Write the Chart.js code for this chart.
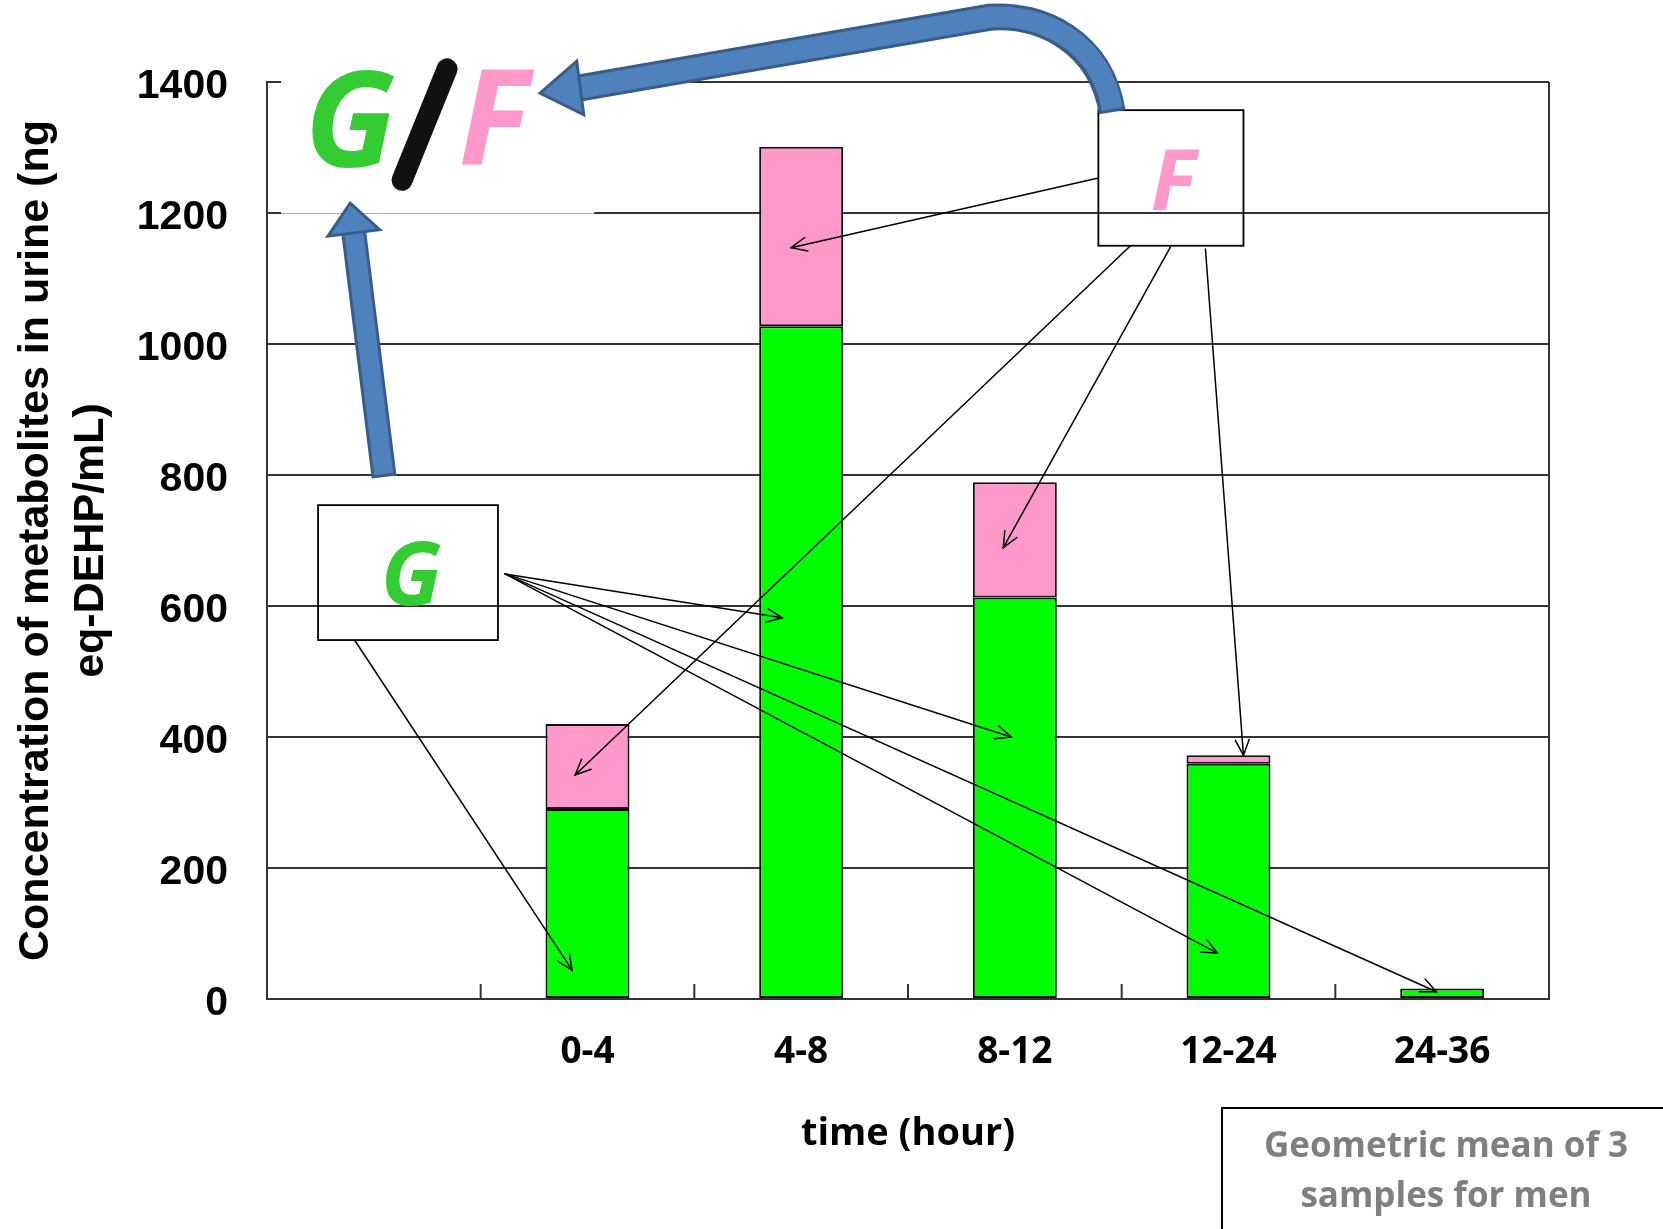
<!DOCTYPE html>
<html>
<head>
<meta charset="utf-8">
<script src="https://cdn.jsdelivr.net/npm/chart.js@4.4.1/dist/chart.umd.min.js"></script>
<style>
  body { margin: 0; background: #fff; }
  canvas { display: block; }
</style>
</head>
<body>
<canvas id="metaboliteChart" width="1663" height="1229"></canvas>
<script>
// time windows (first slot is an empty category, as in the original figure)
const categories = ['', '0-4', '4-8', '8-12', '12-24', '24-36'];
// G = glucuronide, F = free form  (ng eq-DEHP/mL)
const greenValues = [null, 290, 1027, 613, 359, 16];
const pinkValues = [null, 130, 274, 176, 13, null];
const yTicks = [0, 200, 400, 600, 800, 1000, 1200, 1400];

// annotation anchors in axis units: [category index, value]
const gBox = [[-0.261, 754], [0.581, 548]];
const fBox = [[3.391, 1357], [4.070, 1150]];
const gArrows = [
    [[0.614, 649], [1.911, 582]],
    [[0.614, 649], [2.983, 400]],
    [[0.614, 649], [3.948, 70]],
    [[0.614, 649], [4.973, 11]],
    [[-0.088, 547], [0.928, 44]]
];
const fArrows = [
    [[3.386, 1253], [1.953, 1147]],
    [[3.541, 1150], [0.942, 342]],
    [[3.728, 1148], [2.946, 689]],
    [[3.892, 1145], [4.070, 372]]
];

document.addEventListener('DOMContentLoaded', function() {
    const green = '#00ff00';
    const pink = '#ff99cc';
    const textGreen = '#33cc33';
    const blue = '#4f81bd';
    const blueEdge = '#385d8a';

    function P(chart, i, v) {
        return [chart.scales.x.getPixelForValue(i), chart.scales.y.getPixelForValue(v)];
    }

    function thinArrow(ctx, a, b) {
        ctx.beginPath();
        ctx.moveTo(a[0], a[1]);
        ctx.lineTo(b[0], b[1]);
        ctx.stroke();
        const ang = Math.atan2(b[1] - a[1], b[0] - a[0]);
        const L = 17, w = 0.42;
        ctx.beginPath();
        ctx.moveTo(b[0] - L * Math.cos(ang - w), b[1] - L * Math.sin(ang - w));
        ctx.lineTo(b[0], b[1]);
        ctx.lineTo(b[0] - L * Math.cos(ang + w), b[1] - L * Math.sin(ang + w));
        ctx.stroke();
    }

    function blueHead(ctx, tip, base, half) {
        const dx = tip[0] - base[0], dy = tip[1] - base[1];
        const len = Math.hypot(dx, dy);
        const nx = -dy / len, ny = dx / len;
        ctx.beginPath();
        ctx.moveTo(tip[0], tip[1]);
        ctx.lineTo(base[0] + nx * half, base[1] + ny * half);
        ctx.lineTo(base[0] - nx * half, base[1] - ny * half);
        ctx.closePath();
        ctx.fillStyle = blue;
        ctx.fill();
        ctx.lineWidth = 3;
        ctx.strokeStyle = blueEdge;
        ctx.lineJoin = 'miter';
        ctx.stroke();
    }

    const annotations = {
        id: 'annotations',
        afterDraw(chart) {
            const ctx = chart.ctx;
            const area = chart.chartArea;
            const x = chart.scales.x;
            ctx.save();

            // right border of the plot
            ctx.strokeStyle = '#333';
            ctx.lineWidth = 2;
            ctx.beginPath();
            ctx.moveTo(area.right, area.top);
            ctx.lineTo(area.right, area.bottom);
            ctx.stroke();

            // small tick marks between categories, pointing into the plot
            for (let i = 1; i < categories.length; i++) {
                const px = x.getPixelForValue(i - 0.5);
                ctx.beginPath();
                ctx.moveTo(px, area.bottom);
                ctx.lineTo(px, area.bottom - 15);
                ctx.stroke();
            }

            // white backdrop behind the G/F title
            const b1 = P(chart, -0.434, 1440);
            const b2 = P(chart, 1.031, 1200);
            ctx.fillStyle = '#fff';
            ctx.fillRect(b1[0], b1[1], b2[0] - b1[0], b2[1] - b1[1] + 1.5);
            ctx.strokeStyle = '#aaa';
            ctx.lineWidth = 1;
            ctx.beginPath();
            ctx.moveTo(b1[0], b2[1] + 0.5);
            ctx.lineTo(b2[0], b2[1] + 0.5);
            ctx.stroke();

            // boxes
            ctx.strokeStyle = '#000';
            ctx.lineWidth = 1.8;
            [gBox, fBox].forEach(function(bx) {
                const p1 = P(chart, bx[0][0], bx[0][1]);
                const p2 = P(chart, bx[1][0], bx[1][1]);
                ctx.strokeRect(p1[0], p1[1], p2[0] - p1[0], p2[1] - p1[1]);
            });

            // thin arrows
            ctx.lineWidth = 1.5;
            ctx.strokeStyle = '#000';
            ctx.lineCap = 'round';
            gArrows.concat(fArrows).forEach(function(ar) {
                thinArrow(ctx, P(chart, ar[0][0], ar[0][1]), P(chart, ar[1][0], ar[1][1]));
            });

            // box letters
            ctx.textAlign = 'center';
            ctx.textBaseline = 'alphabetic';
            ctx.font = 'italic bold 88px "Open Sans", sans-serif';
            ctx.fillStyle = textGreen;
            let t = P(chart, 0.174, 601);
            ctx.fillText('G', t[0], t[1]);
            ctx.font = 'italic bold 85px "Open Sans", sans-serif';
            ctx.fillStyle = pink;
            t = P(chart, 3.742, 1205);
            ctx.fillText('F', t[0], t[1]);

            // G/F heading
            ctx.font = 'italic bold 132px "Open Sans", sans-serif';
            ctx.fillStyle = textGreen;
            t = P(chart, -0.111, 1270);
            ctx.fillText('G', t[0], t[1]);
            ctx.fillStyle = pink;
            t = P(chart, 0.560, 1273);
            ctx.fillText('F', t[0], t[1]);
            const s1 = P(chart, 0.343, 1420);
            const s2 = P(chart, 0.132, 1250);
            ctx.strokeStyle = '#111';
            ctx.lineWidth = 21;
            ctx.lineCap = 'round';
            ctx.beginPath();
            ctx.moveTo(s1[0], s1[1]);
            ctx.lineTo(s2[0], s2[1]);
            ctx.stroke();

            // vertical blue arrow from the G box
            ctx.lineCap = 'butt';
            const vb = P(chart, 0.048, 797);
            const vt = P(chart, -0.111, 1215);
            const vlen = Math.hypot(vt[0] - vb[0], vt[1] - vb[1]);
            const ux = (vt[0] - vb[0]) / vlen, uy = (vt[1] - vb[1]) / vlen;
            const vbase = [vt[0] - ux * 30, vt[1] - uy * 30];
            ctx.strokeStyle = blueEdge;
            ctx.lineWidth = 25;
            ctx.beginPath();
            ctx.moveTo(vb[0], vb[1]);
            ctx.lineTo(vbase[0], vbase[1]);
            ctx.stroke();
            ctx.strokeStyle = blue;
            ctx.lineWidth = 19;
            ctx.beginPath();
            ctx.moveTo(vb[0] + ux * 3, vb[1] + uy * 3);
            ctx.lineTo(vbase[0], vbase[1]);
            ctx.stroke();
            blueHead(ctx, vt, vbase, 26);

            // curved blue arrow from the F box
            const c0 = P(chart, 3.456, 1354);
            const c1 = P(chart, 3.400, 1464);
            const c2 = P(chart, 3.119, 1504);
            const c3 = P(chart, 2.885, 1499);
            const c4 = P(chart, 0.966, 1391);
            const ct = P(chart, 0.778, 1383);
            [[blueEdge, 27], [blue, 21]].forEach(function(st, k) {
                ctx.strokeStyle = st[0];
                ctx.lineWidth = st[1];
                ctx.lineJoin = 'round';
                ctx.beginPath();
                ctx.moveTo(c0[0], c0[1] - k * 3);
                ctx.bezierCurveTo(c1[0], c1[1], c2[0], c2[1], c3[0], c3[1]);
                ctx.lineTo(c4[0], c4[1]);
                ctx.stroke();
            });
            blueHead(ctx, ct, c4, 27);

            // note box, bottom right
            const W = chart.width, H = chart.height;
            ctx.strokeStyle = '#000';
            ctx.lineWidth = 2;
            ctx.strokeRect(W - 441, H - 121, 460, 140);
            ctx.fillStyle = '#7f7f7f';
            ctx.font = 'bold 35px "Open Sans", sans-serif';
            ctx.textAlign = 'center';
            ctx.fillText('Geometric mean of 3', W - 217, H - 72);
            ctx.fillText('samples for men', W - 217, H - 22);

            ctx.restore();
        }
    };

    const ctx = document.getElementById('metaboliteChart').getContext('2d');
    const metaboliteChart = new Chart(ctx, {
        type: 'bar',
        data: {
            labels: categories,
            datasets: [{
                label: 'G',
                data: greenValues,
                backgroundColor: green,
                borderColor: '#111',
                borderWidth: 2,
                borderSkipped: false
            }, {
                label: 'F',
                data: pinkValues,
                backgroundColor: pink,
                borderColor: '#111',
                borderWidth: 2,
                borderSkipped: false
            }]
        },
        options: {
            responsive: false,
            animation: false,
            datasets: {
                bar: { barPercentage: 0.393, categoryPercentage: 1 }
            },
            layout: {
                padding: { left: 0, right: 114, top: 82, bottom: 0 }
            },
            plugins: {
                legend: { display: false },
                tooltip: { enabled: false }
            },
            scales: {
                x: {
                    stacked: true,
                    grid: { display: false, drawTicks: false },
                    border: { display: true, color: '#333', width: 2 },
                    ticks: {
                        padding: 31,
                        color: '#000',
                        font: { family: '"Open Sans", sans-serif', size: 37, weight: 'bold' }
                    },
                    title: {
                        display: true,
                        text: 'time (hour)',
                        color: '#000',
                        font: { family: '"Open Sans", sans-serif', size: 38, weight: 'bold' },
                        padding: { top: 0, bottom: 72 }
                    },
                    afterFit: function(scale) { scale.height = 230; }
                },
                y: {
                    stacked: true,
                    min: 0,
                    max: 1400,
                    afterBuildTicks: function(scale) {
                        scale.ticks = yTicks.map(function(v) { return { value: v }; });
                    },
                    grid: { color: '#333', lineWidth: 2, drawTicks: false },
                    border: { display: true, color: '#333', width: 2 },
                    ticks: {
                        padding: 39,
                        labelOffset: 5,
                        color: '#000',
                        callback: function(value) { return String(value); },
                        font: { family: '"Liberation Sans", Arial, sans-serif', size: 41, weight: 'bold' }
                    },
                    title: {
                        display: true,
                        text: ['Concentration of metabolites in urine (ng', 'eq-DEHP/mL)'],
                        color: '#000',
                        font: { family: '"Liberation Sans", Arial, sans-serif', size: 43, weight: 'bold', lineHeight: 1.27 },
                        padding: { top: 9, bottom: 0 }
                    },
                    afterFit: function(scale) { scale.width = 267; }
                }
            }
        },
        plugins: [annotations]
    });
});
</script>
</body>
</html>
